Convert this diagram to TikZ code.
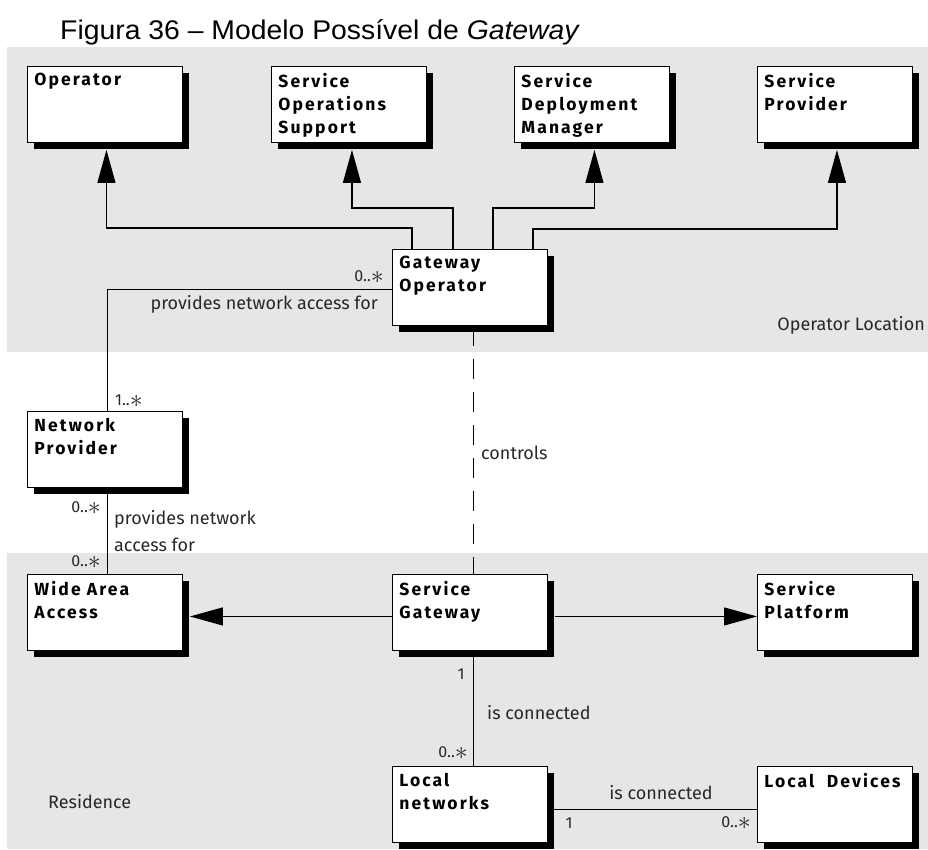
\documentclass[tikz,border=0pt]{standalone}
\usepackage{fontspec}
\usepackage{graphicx}
\setmainfont{Fira Sans}
\newfontfamily\titlefont{Liberation Sans}
\newfontfamily\classfont[LetterSpace=12]{Fira Sans}
\usetikzlibrary{arrows.meta,shadows}

\definecolor{zonegray}{RGB}{230,230,230}
\definecolor{tagtext}{RGB}{40,40,40}

\tikzset{
  cls/.style={draw=black, line width=0.9pt, fill=white, anchor=north west,
    inner sep=7pt,
    general shadow={fill=black, shadow xshift=7pt, shadow yshift=-7pt},
    font=\classfont\bfseries\fontsize{17.5}{23}\selectfont},
  conn/.style={line width=1.1pt},
  arr/.style={conn, -{Triangle[length=33pt,width=18pt]}},
  ctrl/.style={conn, dash pattern=on 20pt off 13pt},
  tag/.style={font=\fontsize{18}{27}\selectfont, text=tagtext, inner sep=0pt, align=left},
  mult/.style={font=\fontsize{16}{18}\selectfont, text=tagtext, inner sep=0pt},
}

\newcommand{\clstext}[1]{\parbox[t][62pt][t]{141pt}{\raggedright #1}}
\newcommand{\many}{0..\raisebox{-1.5pt}{\scalebox{1.5}{$\ast$}}}

\begin{document}
\begin{tikzpicture}[x=1pt,y=-1pt]
  \useasboundingbox (0,0) rectangle (928,849);

  % location zones
  \fill[zonegray] (7,47) rectangle (928,352);
  \fill[zonegray] (7,553) rectangle (928,849);

  % title
  \node[anchor=base west, inner sep=0pt] (title) at (60,39.5)
    {\titlefont\fontsize{27}{31}\selectfont\scalebox{1.05}[1]{Figura 36 – Modelo Possível de \textit{Gateway}}};

  % classes
  \node[cls] (op)  at (27,66)  {\clstext{Operator}};
  \node[cls] (sos) at (271,66) {\clstext{Service\\Operations\\Support}};
  \node[cls] (sdm) at (514,66) {\clstext{Service\\Deployment\\Manager}};
  \node[cls] (sp)  at (757,66) {\clstext{Service\\Provider}};
  \node[cls] (go)  at (392,249) {\clstext{Gateway\\Operator}};
  \node[cls] (np)  at (27,411) {\clstext{Network\\Provider}};
  \node[cls] (waa) at (27,574) {\clstext{Wide Area\\Access}};
  \node[cls] (sg)  at (392,574) {\clstext{Service\\Gateway}};
  \node[cls] (spf) at (757,574) {\clstext{Service\\Platform}};
  \node[cls] (ln)  at (392,766) {\clstext{Local\\networks}};
  \node[cls] (ld)  at (757,766) {\clstext{Local\ \ Devices}};

  % generalisations from the gateway operator
  \draw[arr, shorten >=7pt] ([xshift=20pt]go.north west) -- ++(0,-21) -| ([xshift=1.5pt]op.south);
  \draw[arr, shorten >=7pt] ([xshift=61pt]go.north west) -- ++(0,-41) -| ([xshift=3pt]sos.south);
  \draw[arr, shorten >=7pt] ([xshift=101pt]go.north west) -- ++(0,-41) -| ([xshift=2.5pt]sdm.south);
  \draw[arr, shorten >=7pt] ([xshift=141pt]go.north west) -- ++(0,-20) -| ([xshift=2pt]sp.south);

  % network access associations
  \draw[conn] ([yshift=-2pt]go.west) -| ([xshift=2.5pt]np.north);
  \node[mult, anchor=east] (m1) at (384,277) {\many};
  \node[tag, anchor=east] (t1) at (378,304) {provides network access for};
  \node[mult, anchor=west] (m2) at (115,401) {1..\raisebox{-1.5pt}{\scalebox{1.5}{$\ast$}}};

  \draw[conn] ([xshift=2.5pt]np.south) -- ([xshift=2.5pt]waa.north);
  \node[mult, anchor=east] (m3) at (101,508) {\many};
  \node[tag, anchor=west] (t2) at (114,531) {provides network\\access for};
  \node[mult, anchor=east] (m4) at (101,562) {\many};

  % control dependency
  \draw[ctrl] ([xshift=3.5pt]go.south) -- ([xshift=3.5pt]sg.north);
  \node[tag, anchor=west] (t3) at (481,453) {controls};

  % service gateway navigations
  \draw[arr, shorten <=7pt] ([yshift=-4pt]sg.east) -- ([yshift=-4pt]spf.west);
  \draw[arr, shorten >=7pt] ([yshift=-4pt]sg.west) -- ([yshift=-4pt]waa.east);

  % local connections
  \draw[conn] ([xshift=3.5pt]sg.south) -- ([xshift=3.5pt]ln.north);
  \node[mult] (m5) at (461,674) {1};
  \node[tag, anchor=west] (t4) at (487,713) {is connected};
  \node[mult, anchor=east] (m6) at (468,753) {\many};

  \draw[conn] ([yshift=-5pt]ln.east) -- ([yshift=-5pt]ld.west);
  \node[tag] (t5) at (661,793) {is connected};
  \node[mult] (m7) at (569,823) {1};
  \node[mult, anchor=east] (m8) at (751,823) {\many};

  % zone names
  \node[tag, anchor=east] (z1) at (925,325) {Operator Location};
  \node[tag, anchor=west] (z2) at (48,802) {Residence};
\end{tikzpicture}
\end{document}
